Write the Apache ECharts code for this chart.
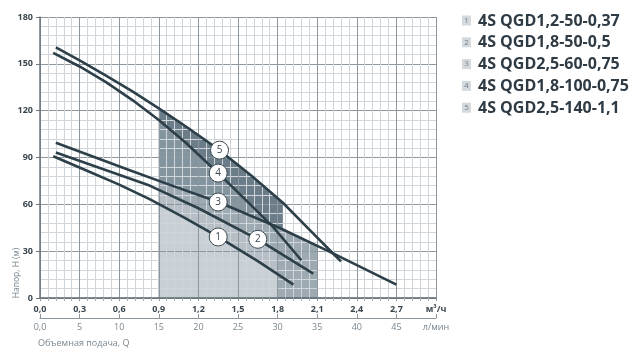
<!DOCTYPE html>
<html>
<head>
<meta charset="utf-8">
<script src="https://cdn.jsdelivr.net/npm/echarts@6/dist/echarts.min.js"></script>
<style>html,body{margin:0;padding:0;background:#fff}#c{width:640px;height:357px}</style>
</head>
<body>
<div id="c"></div>
<script>
// ---- data (flow Q in m³/h, head H in m) ----
var curve1 = [[0.10,90.8],[0.33,82.5],[0.6,72.6],[0.83,63.3],[1.1,51.1],[1.35,39.1],[1.65,23.6],[1.92,8.6]];
var curve2 = [[0.12,93.2],[0.48,82.5],[0.83,72.0],[1.2,57.5],[1.65,37.6],[2.07,15.6]];
var curve3 = [[0.12,99.4],[0.68,81.8],[1.0,72.0],[1.35,61.5],[1.82,44.7],[2.22,28.6],[2.7,8.6]];
var curve4 = [[0.10,157],[0.3,148.3],[0.5,138.3],[0.7,126.8],[0.9,114],[1.1,99.8],[1.35,80],[1.55,63.5],[1.76,46],[1.98,24.2]];
var curve5 = [[0.12,160.5],[0.3,152.2],[0.5,142.5],[0.7,132.3],[0.9,121.5],[1.1,110.2],[1.36,94.7],[1.6,78.5],[1.84,61],[2.05,43],[2.22,28.5],[2.28,23.5]];
var curves = [curve1, curve2, curve3, curve4, curve5];
var modelNames = ['4S QGD1,2-50-0,37','4S QGD1,8-50-0,5','4S QGD2,5-60-0,75','4S QGD1,8-100-0,75','4S QGD2,5-140-1,1'];
var labelNums = ['1','2','3','4','5'];
var labelX = [1.35, 1.65, 1.35, 1.35, 1.36];
var labelY = [39.1, 37.6, 61.5, 80.0, 94.7];
// working ranges (shaded), Q from / to
var rangeFrom = [0.9, 0.9, 0.9, 0.9, 0.9];
var rangeTo   = [1.8, 1.8, 2.1, 1.8, 1.84];
var yTicks = [0, 30, 60, 90, 120, 150, 180];
var qTicksM3 = [0, 3.0];     // m³/h axis min/max
var qTicksL = [0, 50];       // l/min axis min/max

// ---- styles ----
var shadeColors = ['#c8d0d5', '#b6bfc6', '#9eaab2', '#8595a0', '#6b7d88'];
var lineColor = '#2d3f48';

function interp(c, x) {
  for (var i = 0; i < c.length - 1; i++) {
    if (x >= c[i][0] && x <= c[i+1][0]) {
      var t = (x - c[i][0]) / (c[i+1][0] - c[i][0]);
      return c[i][1] + t * (c[i+1][1] - c[i][1]);
    }
  }
  return c[c.length-1][1];
}
function shadeData(c, x0, x1) {
  var d = [[x0, interp(c, x0)]];
  c.forEach(function (p) { if (p[0] > x0 && p[0] < x1) d.push(p); });
  d.push([x1, interp(c, x1)]);
  return d;
}

var series = [];
for (var k = 4; k >= 0; k--) {
  series.push({
    type: 'line', z: 1, silent: true, symbol: 'none',
    data: shadeData(curves[k], rangeFrom[k], rangeTo[k]),
    lineStyle: { width: 0, opacity: 0 },
    areaStyle: { color: shadeColors[k], opacity: 1, origin: 'start' }
  });
}
curves.forEach(function (c) {
  series.push({
    type: 'line', z: 3, silent: true, symbol: 'none', data: c,
    lineStyle: { color: lineColor, width: 2.6, cap: 'butt', join: 'round' }
  });
});
series.push({
  type: 'scatter', z: 5, symbolSize: 18,
  data: labelX.map(function (x, i) { return [x, labelY[i], labelNums[i]]; }),
  itemStyle: { color: '#ffffff', borderColor: '#3c4a52', borderWidth: 1, opacity: 1 },
  label: { show: true, position: 'inside', formatter: function (p) { return p.data[2]; },
           color: '#3a464e', fontSize: 10, fontFamily: 'Open Sans' }
});

function fmtQ(v) {
  if (Math.abs(v - 3) < 1e-6) return 'м³/ч';
  return (Math.round(v * 10) / 10).toFixed(1).replace('.', ',');
}
function fmtL(v) {
  if (v === 50) return 'л/мин';
  if (v === 0) return '0,0';
  return String(v);
}

var gfx = [];
modelNames.forEach(function (name, i) {
  var y = 20.5 + i * 21.8;
  gfx.push({ type: 'rect', left: 462, top: y - 5, shape: { width: 9, height: 10 }, style: { fill: '#d3d9dd' } });
  gfx.push({ type: 'text', x: 466.5, y: y, style: { text: labelNums[i], fill: '#76828b', font: '8px "Open Sans"', textAlign: 'center', textVerticalAlign: 'middle' } });
  gfx.push({ type: 'text', x: 478, y: y + 0.5, style: { text: name, fill: '#2f3b44', font: 'bold 16px "Open Sans"', textAlign: 'left', textVerticalAlign: 'middle' } });
});
gfx.push({ type: 'text', x: 17, y: 273, rotation: Math.PI / 2,
  style: { text: 'Напор, Н (м)', fill: '#7a868e', font: '8.5px "Open Sans"', textAlign: 'center', textVerticalAlign: 'middle' } });
gfx.push({ type: 'text', x: 38, y: 343,
  style: { text: 'Объемная подача, Q', fill: '#7a868e', font: '9px "Open Sans"', textAlign: 'left', textVerticalAlign: 'middle' } });

var option = {
  animation: false,
  grid: { left: 40, right: 204, top: 17, bottom: 59 },
  xAxis: [{
    type: 'value', min: qTicksM3[0], max: qTicksM3[1], interval: 0.3, z: 2,
    axisLine: { show: true, onZero: false, lineStyle: { color: '#5f6a71', width: 1.5 } },
    axisTick: { show: true, length: 3, lineStyle: { color: '#8e979d' } },
    minorTick: { show: true, splitNumber: 5, length: 3, lineStyle: { color: '#aab2b7' } },
    splitLine: { show: true, lineStyle: { color: '#8e979d', width: 1 } },
    minorSplitLine: { show: true, lineStyle: { color: '#cfd5d8', width: 1 } },
    axisLabel: { formatter: fmtQ, color: '#3a464e', fontWeight: 'bold', fontSize: 9, fontFamily: 'Open Sans', margin: 7, showMaxLabel: true }
  }, {
    type: 'value', min: qTicksL[0], max: qTicksL[1], interval: 5, position: 'bottom', offset: 20, z: 2,
    axisLine: { show: true, onZero: false, lineStyle: { color: '#8c969c', width: 1 } },
    axisTick: { show: true, inside: true, length: 4, lineStyle: { color: '#8c969c' } },
    splitLine: { show: false },
    axisLabel: { formatter: fmtL, color: '#7a868e', fontSize: 9, fontFamily: 'Open Sans', margin: 5, showMaxLabel: true }
  }],
  yAxis: {
    type: 'value', min: yTicks[0], max: yTicks[yTicks.length-1], interval: 30, z: 2,
    axisLine: { show: true, lineStyle: { color: '#6b767d', width: 1.5 } },
    axisTick: { show: true, length: 4, lineStyle: { color: '#6b767d' } },
    minorTick: { show: false, splitNumber: 5 },
    splitLine: { show: true, lineStyle: { color: '#8e979d', width: 1 } },
    minorSplitLine: { show: true, lineStyle: { color: '#cfd5d8', width: 1 } },
    axisLabel: { color: '#3a464e', fontWeight: 'bold', fontSize: 9, fontFamily: 'Open Sans', margin: 7 }
  },
  graphic: gfx,
  series: series
};
var chart = echarts.init(document.getElementById('c'), null, { renderer: 'canvas' });
chart.setOption(option);
</script>
</body>
</html>
